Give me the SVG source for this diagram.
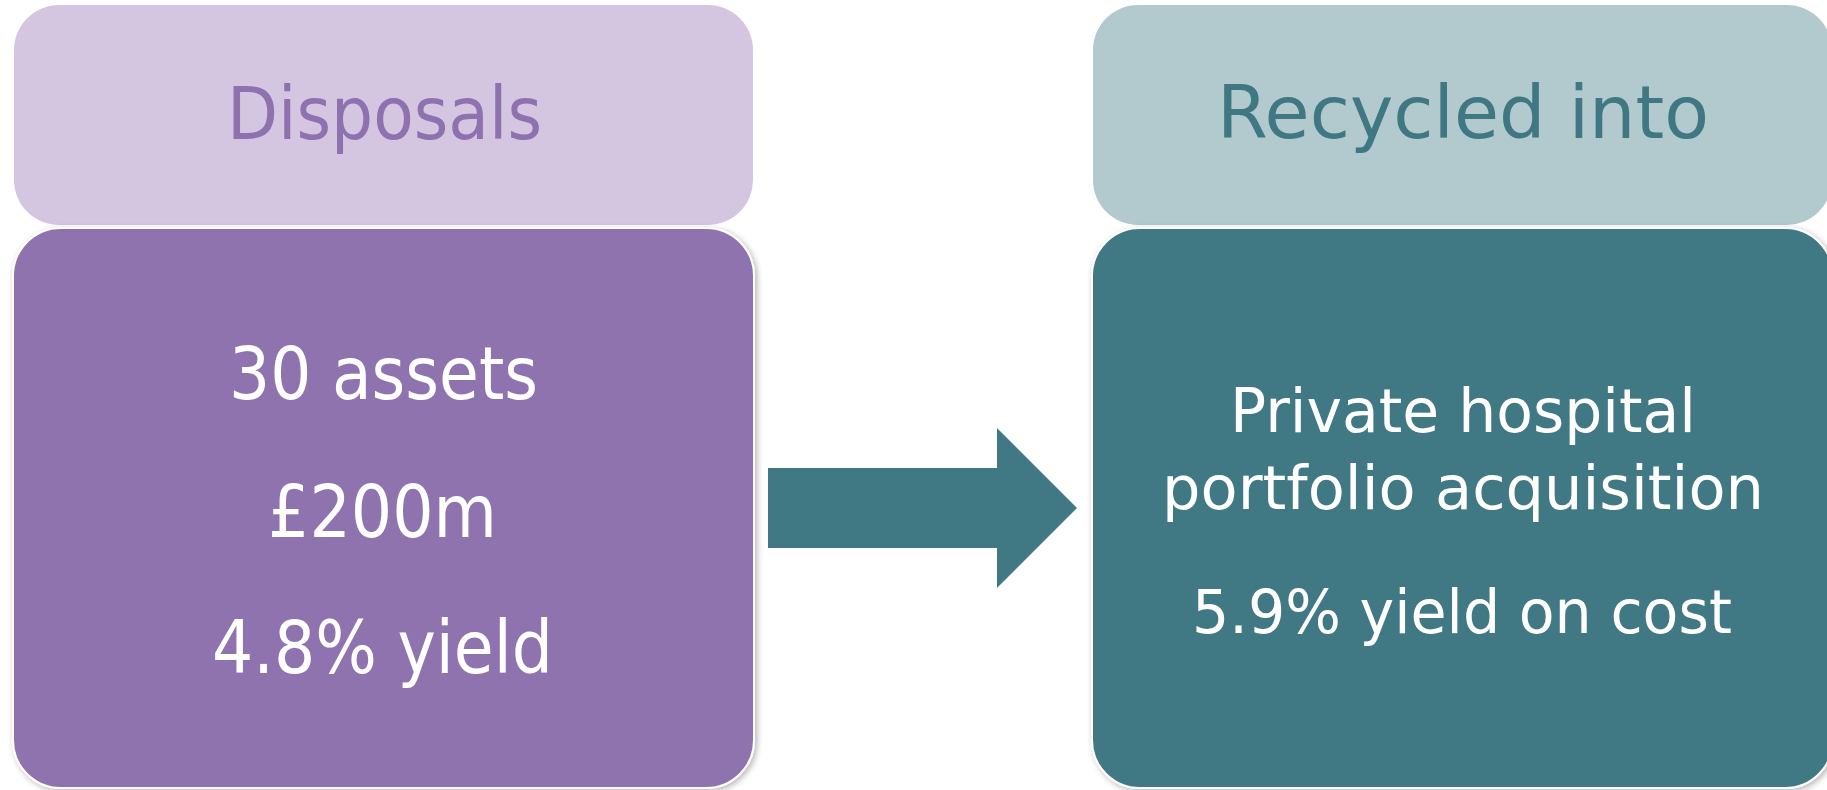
<svg xmlns="http://www.w3.org/2000/svg" width="1827" height="790" viewBox="0 0 1827 790">
  <style>
    .hdr { font-family: "DejaVu Sans", "Liberation Sans", sans-serif; font-size: 73px; text-anchor: middle; }
    .body { font-family: "DejaVu Sans", "Liberation Sans", sans-serif; font-size: 73px; fill: #ffffff; text-anchor: middle; }
    .small { font-size: 60px; }
    .card { stroke: #ffffff; stroke-width: 2; filter: url(#shadow); }
  </style>
  <defs>
    <filter id="shadow" x="-5%" y="-5%" width="110%" height="110%">
      <feGaussianBlur in="SourceAlpha" stdDeviation="3"/>
      <feOffset dx="2" dy="2" result="b"/>
      <feComponentTransfer><feFuncA type="linear" slope="0.3"/></feComponentTransfer>
      <feMerge><feMergeNode/><feMergeNode in="SourceGraphic"/></feMerge>
    </filter>
  </defs>
  <rect width="1827" height="790" fill="#ffffff"/>

  <!-- Disposals column -->
  <g id="disposals-header">
    <rect x="14" y="5" width="739" height="220" rx="45" fill="#D4C6E0"/>
    <text class="hdr" x="384.5" y="139" fill="#8E72B0" textLength="315" lengthAdjust="spacingAndGlyphs">Disposals</text>
  </g>
  <g id="disposals-body">
    <rect class="card" x="13" y="228" width="741" height="560" rx="48" fill="#8E73AF"/>
    <text class="body" x="383.5" y="399" textLength="309" lengthAdjust="spacingAndGlyphs">30 assets</text>
    <text class="body" x="382.5" y="537" textLength="229" lengthAdjust="spacingAndGlyphs">£200m</text>
    <text class="body" x="382.5" y="673" textLength="341" lengthAdjust="spacingAndGlyphs">4.8% yield</text>
  </g>

  <!-- Recycled into column -->
  <g id="recycled-header">
    <rect x="1093" y="5" width="739" height="220" rx="45" fill="#B2C9CE"/>
    <text class="hdr" x="1463" y="138" fill="#3F7782" textLength="492" lengthAdjust="spacingAndGlyphs">Recycled into</text>
  </g>
  <g id="recycled-body">
    <rect class="card" x="1092" y="228" width="741" height="560" rx="48" fill="#407884"/>
    <text class="body small" x="1463" y="432" textLength="466" lengthAdjust="spacingAndGlyphs">Private hospital</text>
    <text class="body small" x="1463" y="509" textLength="602" lengthAdjust="spacingAndGlyphs">portfolio acquisition</text>
    <text class="body small" x="1462" y="633" textLength="540" lengthAdjust="spacingAndGlyphs">5.9% yield on cost</text>
  </g>

  <!-- Connector -->
  <g id="connectors">
    <polygon points="768,468 997,468 997,428 1077,508 997,588 997,548 768,548" fill="#407884"/>
  </g>
</svg>
